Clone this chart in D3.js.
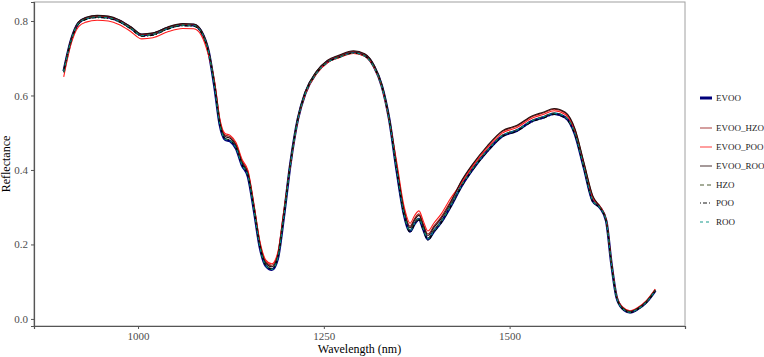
<!DOCTYPE html>
<html>
<head>
<meta charset="utf-8">
<script src="https://cdn.jsdelivr.net/npm/d3@7"></script>
<style>
  body { margin: 0; background: #fff; }
  svg { display: block; }
  svg text { font-family: "Liberation Serif", "Times New Roman", serif; }
</style>
</head>
<body>
<div id="chart"></div>
<script>
var wavelength = [900,910,920,930,945,960,975,990,1005,1020,1040,1060,1075,1085,1095,
  1103,1110,1117,1124,1132,1140,1148,1156,1164,1172,1180,1188,1196,
  1205,1215,1225,1240,1255,1270,1290,1305,1318,1328,1338,
  1348,1358,1366,1372,1378,1384,1390,1398,1408,1420,
  1435,1450,1470,1490,1510,1530,1545,1560,1575,1588,1600,1612,
  1622,1630,1637,1644,1652,1662,1672,1684,1696]

var seriesNames = ["EVOO", "EVOO_HZO", "EVOO_POO", "EVOO_ROO", "HZO", "POO", "ROO"]

var evoo = [0.665,0.749,0.795,0.807,0.812,0.810,0.800,0.782,0.762,0.765,0.781,0.790,0.789,0.772,0.717,
  0.622,0.522,0.482,0.477,0.457,0.412,0.382,0.292,0.192,0.142,0.132,0.162,0.272,
  0.416,0.536,0.606,0.661,0.691,0.704,0.716,0.708,0.676,0.626,0.536,
  0.400,0.280,0.235,0.255,0.268,0.240,0.214,0.235,0.260,0.300,
  0.356,0.401,0.451,0.491,0.506,0.531,0.541,0.551,0.541,0.496,0.406,0.316,
  0.298,0.263,0.148,0.058,0.028,0.018,0.026,0.045,0.076]
var evoo_hzo = [0.666,0.750,0.796,0.808,0.813,0.811,0.801,0.783,0.763,0.766,0.782,0.791,0.790,0.773,0.718,
  0.634,0.534,0.494,0.489,0.469,0.424,0.394,0.304,0.204,0.154,0.144,0.174,0.284,
  0.418,0.538,0.608,0.663,0.693,0.706,0.718,0.710,0.678,0.628,0.538,
  0.414,0.294,0.249,0.269,0.282,0.254,0.228,0.249,0.274,0.314,
  0.368,0.413,0.463,0.503,0.518,0.543,0.553,0.563,0.553,0.508,0.418,0.328,
  0.300,0.265,0.150,0.060,0.030,0.020,0.028,0.047,0.078]
var evoo_poo = [0.650,0.739,0.785,0.797,0.802,0.800,0.790,0.772,0.752,0.755,0.771,0.780,0.779,0.762,0.707,
  0.638,0.538,0.498,0.493,0.473,0.428,0.398,0.308,0.208,0.158,0.148,0.178,0.288,
  0.413,0.533,0.603,0.658,0.688,0.701,0.713,0.705,0.673,0.623,0.533,
  0.422,0.302,0.257,0.277,0.290,0.262,0.236,0.257,0.282,0.322,
  0.364,0.409,0.459,0.499,0.514,0.539,0.549,0.559,0.549,0.504,0.414,0.324,
  0.302,0.267,0.152,0.062,0.032,0.022,0.030,0.049,0.080]
var evoo_roo = [0.668,0.752,0.798,0.810,0.815,0.813,0.803,0.785,0.765,0.768,0.784,0.793,0.792,0.775,0.720,
  0.630,0.530,0.490,0.485,0.465,0.420,0.390,0.300,0.200,0.150,0.140,0.170,0.280,
  0.420,0.540,0.610,0.665,0.695,0.708,0.720,0.712,0.680,0.630,0.540,
  0.410,0.290,0.245,0.265,0.278,0.250,0.224,0.245,0.270,0.310,
  0.370,0.415,0.465,0.505,0.520,0.545,0.555,0.565,0.555,0.510,0.420,0.330,
  0.300,0.265,0.150,0.060,0.030,0.020,0.028,0.047,0.078]
var hzo = [0.663,0.747,0.793,0.805,0.810,0.808,0.798,0.780,0.760,0.763,0.779,0.788,0.787,0.770,0.715,
  0.625,0.525,0.485,0.480,0.460,0.415,0.385,0.295,0.195,0.145,0.135,0.165,0.275,
  0.415,0.535,0.605,0.660,0.690,0.703,0.715,0.707,0.675,0.625,0.535,
  0.403,0.283,0.238,0.258,0.271,0.243,0.217,0.238,0.263,0.303,
  0.358,0.403,0.453,0.493,0.508,0.533,0.543,0.553,0.543,0.498,0.408,0.318,
  0.298,0.263,0.148,0.058,0.028,0.018,0.026,0.045,0.076]
var poo = [0.662,0.746,0.792,0.804,0.809,0.807,0.797,0.779,0.759,0.762,0.778,0.787,0.786,0.769,0.714,
  0.624,0.524,0.484,0.479,0.459,0.414,0.384,0.294,0.194,0.144,0.134,0.164,0.274,
  0.414,0.534,0.604,0.659,0.689,0.702,0.714,0.706,0.674,0.624,0.534,
  0.398,0.278,0.233,0.253,0.266,0.238,0.212,0.233,0.258,0.298,
  0.354,0.399,0.449,0.489,0.504,0.529,0.539,0.549,0.539,0.494,0.404,0.314,
  0.297,0.262,0.147,0.057,0.027,0.017,0.025,0.044,0.075]
var roo = [0.664,0.748,0.794,0.806,0.811,0.809,0.799,0.781,0.761,0.764,0.780,0.789,0.788,0.771,0.716,
  0.623,0.523,0.483,0.478,0.458,0.413,0.383,0.293,0.193,0.143,0.133,0.163,0.273,
  0.414,0.534,0.604,0.659,0.689,0.702,0.714,0.706,0.674,0.624,0.534,
  0.401,0.281,0.236,0.256,0.269,0.241,0.215,0.236,0.261,0.301,
  0.357,0.402,0.452,0.492,0.507,0.532,0.542,0.552,0.542,0.497,0.407,0.317,
  0.298,0.263,0.148,0.058,0.028,0.018,0.026,0.045,0.076]

var xTicks = [1000, 1250, 1500]
var yTicks = [0.0, 0.2, 0.4, 0.6, 0.8]

var allValues = [evoo, evoo_hzo, evoo_poo, evoo_roo, hzo, poo, roo]

// look of each series
var styles = {
    "EVOO":     { color: "#00007a", width: 2.6, dash: null },
    "EVOO_HZO": { color: "#9b1c1c", width: 1.1, dash: null },
    "EVOO_POO": { color: "#ff1a1a", width: 1.1, dash: null },
    "EVOO_ROO": { color: "#2a0f0f", width: 1.1, dash: null },
    "HZO":      { color: "#3b4a1e", width: 1.1, dash: "4,3" },
    "POO":      { color: "#000000", width: 1.1, dash: "1,2,4,2" },
    "ROO":      { color: "#009080", width: 1.1, dash: "3,3" }
}

var series = seriesNames.map(function (name, i) {
    return {
        name: name,
        points: wavelength.map(function (w, j) { return { x: w, y: allValues[i][j] } })
    }
})

const W = 764, H = 357
const margin = ({ top: 2, right: 79, bottom: 31, left: 34 })
const width = W - margin.left - margin.right,
    height = H - margin.top - margin.bottom

let svg = d3.select("#chart").append("svg")
    .attr("width", W)
    .attr("height", H)

let x = d3.scaleLinear().domain([860, 1736]).range([0, width])
let y = d3.scaleLinear().domain([-0.019, 0.851]).range([height, 0])

let g = svg.append("g")
    .attr("transform", "translate(" + margin.left + "," + margin.top + ")")

// panel border
g.append("rect")
    .attr("x", 0).attr("y", 0)
    .attr("width", width).attr("height", height)
    .attr("fill", "none")
    .attr("stroke", "#a0a0a0")
    .attr("stroke-width", 1)

let clip = g.append("clipPath").attr("id", "clip")
clip.append("rect").attr("width", width).attr("height", height)

let line = d3.line()
    .x(function (d) { return x(d.x) })
    .y(function (d) { return y(d.y) })
    .curve(d3.curveMonotoneX)

g.append("g")
    .attr("clip-path", "url(#clip)")
    .selectAll("path")
    .data(series)
    .enter()
    .append("path")
    .attr("d", function (d) { return line(d.points) })
    .attr("fill", "none")
    .attr("stroke", function (d) { return styles[d.name].color })
    .attr("stroke-width", function (d) { return styles[d.name].width })
    .attr("stroke-dasharray", function (d) { return styles[d.name].dash })
    .attr("stroke-linejoin", "round")

// axes
let xAxis = g.append("g")
    .attr("transform", "translate(0," + height + ")")
    .call(d3.axisBottom(x).tickValues(xTicks).tickSize(3).tickPadding(3).tickFormat(d3.format("d")))
let yAxis = g.append("g")
    .call(d3.axisLeft(y).tickValues(yTicks).tickSize(3).tickPadding(3).tickFormat(d3.format(".1f")))

;[xAxis, yAxis].forEach(function (a) {
    a.attr("font-family", null)
    a.select(".domain").attr("stroke", "#555").attr("stroke-width", 1.2)
    a.selectAll(".tick line").attr("stroke", "#555")
    a.selectAll(".tick text")
        .attr("fill", "#4d4d4d")
        .style("font-size", "11px")
})

// axis titles
svg.append("text")
    .attr("x", margin.left + width / 2)
    .attr("y", 353)
    .attr("text-anchor", "middle")
    .style("font-size", "12px")
    .text("Wavelength (nm)")

svg.append("text")
    .attr("transform", "translate(10," + (margin.top + height / 2) + ") rotate(-90)")
    .attr("text-anchor", "middle")
    .style("font-size", "12px")
    .text("Reflectance")

// legend
var legendY = [98, 128, 147, 166, 185, 203, 222]
let legend = svg.append("g")
    .selectAll("g")
    .data(seriesNames)
    .enter()
    .append("g")
    .attr("transform", function (d, i) { return "translate(700," + legendY[i] + ")" })

legend.append("line")
    .attr("x1", 0).attr("x2", 12)
    .attr("y1", 0).attr("y2", 0)
    .attr("stroke", function (d) { return styles[d].color })
    .attr("stroke-width", function (d) { return d === "EVOO" ? 3 : 1.4 })
    .attr("stroke-dasharray", function (d) {
        var s = styles[d].dash
        return s ? s : null
    })
    .attr("opacity", function (d) { return d === "EVOO" ? 1 : 0.6 })

legend.append("text")
    .attr("x", 16)
    .attr("y", 3)
    .style("font-size", "9px")
    .attr("fill", "#1a1a1a")
    .text(function (d) { return d })
</script>
</body>
</html>
